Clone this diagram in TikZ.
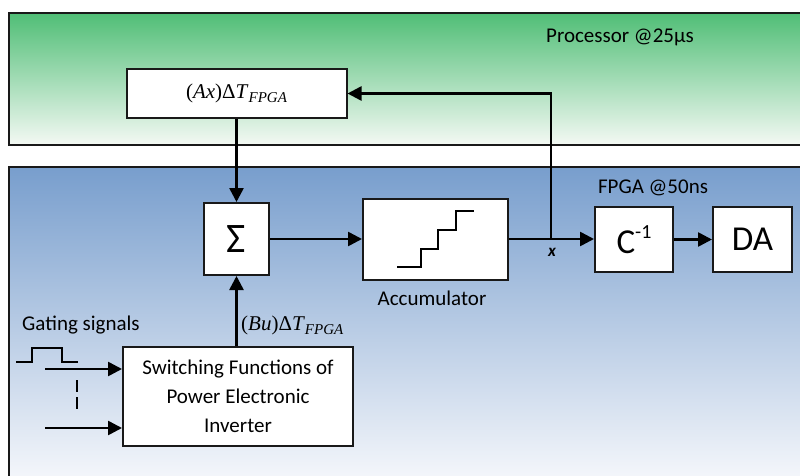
\documentclass[tikz,border=0pt]{standalone}
\usepackage{fontspec}
\setmainfont{Carlito}
\newfontfamily\eqfont{Liberation Serif}
\usetikzlibrary{arrows.meta}
\definecolor{procTop}{RGB}{80,190,118}
\definecolor{procBot}{RGB}{244,249,244}
\definecolor{fpgaTop}{RGB}{120,158,205}
\definecolor{fpgaBot}{RGB}{248,249,252}
\definecolor{frame}{RGB}{25,25,25}
% product of a quantity and the FPGA time step, typeset in a serif face
\newcommand{\dtterm}[1]{{\eqfont\fontsize{21}{24}\selectfont(\textit{#1})Δ\textit{T}\raisebox{-4pt}{\fontsize{15}{15}\selectfont\itshape FPGA}}}
\begin{document}
\begin{tikzpicture}[x=1pt,y=-1pt,
  block/.style={draw=frame, line width=2pt, fill=white, inner sep=0pt, align=center},
  sig/.style={line width=2.6pt, -{Triangle[length=14pt,width=14pt]}},
  wire/.style={line width=2.6pt},
  thin wave/.style={line width=2pt},
  lbl/.style={font=\fontsize{21}{25}\selectfont, inner sep=0pt},
]
\useasboundingbox (0,0) rectangle (800,476);
\clip (0,0) rectangle (800,476);

% processor and FPGA domains
\shade[top color=procTop, bottom color=procBot] (9,13) rectangle (812,145);
\draw[frame, line width=2pt] (812,13) -- (9,13) -- (9,145) -- (812,145);
\shade[top color=fpgaTop, bottom color=fpgaBot] (9,167) rectangle (812,488);
\draw[frame, line width=2pt] (9,488) -- (9,167) -- (812,167);

\node[lbl] (proc) at (620,37) {Processor @25µs};
\node[lbl] (fpga) at (653,188) {FPGA @50ns};

% blocks
\node[block, minimum width=220, minimum height=49] (ax) at (236.5,93.5) {\dtterm{Ax}};
\node[block, minimum width=65, minimum height=72, font=\fontsize{42}{46}\selectfont] (sum) at (236.5,239) {Σ};
\node[block, minimum width=145, minimum height=81] (acc) at (435.5,239.5) {};
\node[block, minimum width=78, minimum height=65, font=\fontsize{35}{40}\selectfont] (cinv) at (634,239.5) {C\raisebox{15pt}{\fontsize{20}{20}\selectfont -1}};
\node[block, minimum width=79, minimum height=65, font=\fontsize{35}{40}\selectfont] (da) at (752.5,239.5) {DA};
\node[block, minimum width=230, minimum height=99, font=\fontsize{21}{29}\selectfont] (sw) at (238,396.5) {Switching Functions of\\Power Electronic\\Inverter};

% accumulator staircase symbol
\begin{scope}[shift={(acc.center)}]
  \draw[thin wave] (-38.5,27.5) -- (-14.5,27.5) -- (-14.5,9.5) -- (2.5,9.5)
    -- (2.5,-9.5) -- (20.5,-9.5) -- (20.5,-28.5) -- (38.5,-28.5);
\end{scope}
\node[lbl] (acclbl) at (432,298) {Accumulator};

% signal flow
\coordinate (jx) at (551,239);
\draw[sig] (ax.south) -- (ax.south |- sum.north);
\draw[sig] (sum.south |- sw.north) -- (sum.south);
\node[inner sep=0pt, anchor=west] (bu) at (241,325) {\dtterm{Bu}};
\draw[sig] (sum.east) -- (sum.east -| acc.west);
\draw[sig] (acc.east |- jx) -- (jx -| cinv.west);
\draw[sig] (jx) |- (ax.east);
\node[font=\fontsize{17}{19}\selectfont\bfseries\itshape, inner sep=0pt] (xlbl) at (552,252) {x};
\draw[sig] (cinv.east) -- (da.west);

% gating signals
\node[lbl, anchor=west] (gate) at (22,325) {Gating signals};
\coordinate (w0) at (16,362);
\coordinate (w1) at (78,362);
\draw[thin wave] (w0) -- (32,362) -- (32,348) -- (62,348) -- (62,362) -- (w1);
\coordinate (in1) at (45,369);
\coordinate (in2) at (45,428);
\draw[sig] (in1) -- (in1 -| sw.west);
\draw[sig] (in2) -- (in2 -| sw.west);
\coordinate (d0) at (77,380);
\coordinate (d1) at (77,409);
\draw[wire, dash pattern=on 12pt off 5pt] (d0) -- (d1);
\end{tikzpicture}
\end{document}
